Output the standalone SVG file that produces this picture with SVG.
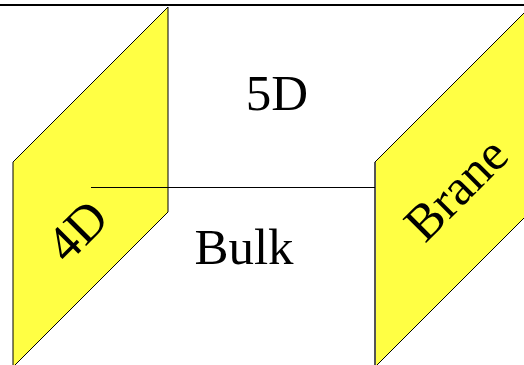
<svg xmlns="http://www.w3.org/2000/svg" width="524" height="365" viewBox="0 0 524 365">
<style>
.brane{fill:#ffff44;stroke:#000;stroke-width:1}
.lbl{font-family:"Liberation Serif",serif;font-size:51px;fill:#000}
</style>
<rect width="524" height="365" fill="#fff"/>
<g id="connectors">
<line x1="0" y1="5" x2="524" y2="5" stroke="#000" stroke-width="2"/>
</g>
<g id="left-brane">
<polygon class="brane" points="13,162 168,7 168,212 13,367"/>
<text class="lbl" text-anchor="middle" transform="translate(89,243) rotate(-45)">4D</text>
</g>
<g id="right-brane">
<polygon class="brane" points="375,162 530,7 530,212 375,367"/>
<line x1="375" y1="162" x2="375" y2="365" stroke="#555" stroke-width="2"/>
<text class="lbl" text-anchor="middle" transform="translate(468,201) rotate(-45)">Brane</text>
</g>
<g id="bulk-line">
<line x1="91" y1="187.5" x2="375" y2="187.5" stroke="#000" stroke-width="1"/>
</g>
<g id="labels">
<text class="lbl" x="277" y="110" text-anchor="middle">5D</text>
<text class="lbl" x="244" y="264" text-anchor="middle">Bulk</text>
</g>
</svg>
